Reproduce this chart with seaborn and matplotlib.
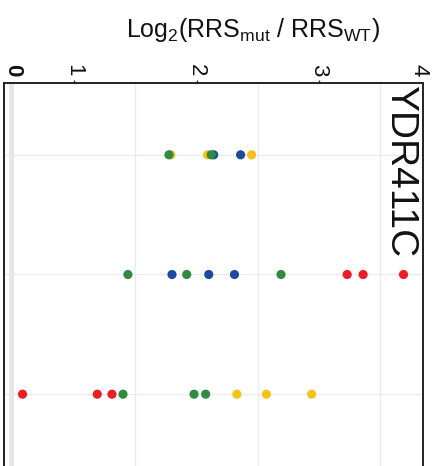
import numpy as np
import pandas as pd
import matplotlib
matplotlib.use("Agg")
import matplotlib.pyplot as plt
from matplotlib.ticker import MultipleLocator, FixedLocator
import seaborn as sns

# ---- data ----
rows = ["row1", "row2", "row3"]
groups = ["yellow", "blue", "green", "red"]
yellow_vals = {"row1": [1.79, 2.09, 2.45], "row2": [], "row3": [2.33, 2.57, 2.94]}
blue_vals = {"row1": [2.14, 2.36], "row2": [1.80, 2.10, 2.31], "row3": []}
green_vals = {"row1": [1.775, 2.12], "row2": [1.44, 1.92, 2.69], "row3": [1.40, 1.98, 2.075]}
red_vals = {"row1": [], "row2": [3.23, 3.36, 3.69], "row3": [0.58, 1.19, 1.31]}
tick_vals = [0.5, 1, 2, 3, 3.82]
tick_labels = ["0", "1", "2", "3", "4"]
title = "YDR411C"

series = {"yellow": yellow_vals, "blue": blue_vals, "green": green_vals, "red": red_vals}
recs = []
for r in rows:
    for g in groups:
        for v in series[g][r]:
            recs.append({"row": r, "group": g, "value": v})
df = pd.DataFrame(recs)

palette = {"yellow": "#F2C318", "blue": "#1B4A9E", "green": "#2E8B40", "red": "#EE1C25"}

sns.set_style("white")
plt.rcParams["font.family"] = ["Liberation Sans", "DejaVu Sans"]
plt.rcParams["mathtext.fontset"] = "custom"
plt.rcParams["mathtext.rm"] = "Liberation Sans"
plt.rcParams["mathtext.it"] = "Liberation Sans:italic"
plt.rcParams["mathtext.bf"] = "Liberation Sans:bold"

fig = plt.figure(figsize=(4.33, 4.66), dpi=100)
W, H = 433, 466
ax = fig.add_axes([3.5 / W, 0, (423.3 - 3.5) / W, 1 - 83 / H])

ax.axvline(0.482, color="#E6E6E6", lw=3.6, zorder=0.5)

sns.stripplot(data=df, x="value", y="row", hue="group", order=rows,
              hue_order=groups, palette=palette, jitter=False, size=6.6,
              linewidth=0, legend=False, ax=ax, zorder=3)

ax.set_xlim(0.4245, 3.8514)
ax.set_ylim(2.6, -0.6)

# grid
ax.xaxis.set_minor_locator(MultipleLocator(0.5))
ax.grid(False)
ax.grid(True, axis="x", which="minor", color="#EBEBEB", lw=1.0, zorder=0)
ax.grid(True, axis="y", which="major", color="#EBEBEB", lw=1.0, zorder=0)
ax.set_axisbelow(True)

# x ticks on top
ax.xaxis.set_major_locator(FixedLocator(tick_vals))
ax.set_xticklabels(tick_labels, rotation=-90, fontsize=16)
ax.xaxis.tick_top()
ax.tick_params(axis="x", which="major", direction="out", length=2.2, width=1.0,
               pad=2.5, color="#222222", labelcolor="#111111")
ax.tick_params(axis="x", which="minor", length=0)
ticks = ax.xaxis.get_major_ticks()
for i in (0, len(ticks) - 1):
    ticks[i].tick1line.set_visible(False)
    ticks[i].tick2line.set_visible(False)
ax.get_xticklabels()[0].set_fontweight("bold")

ax.set_yticks(range(len(rows)))
ax.set_yticklabels([])
ax.tick_params(axis="y", direction="out", length=3.5, width=1.0, color="#222222")

ax.set_xlabel("")
ax.set_ylabel("")

for s in ["top", "left", "right"]:
    ax.spines[s].set_visible(True)
    ax.spines[s].set_linewidth(1.4)
    ax.spines[s].set_color("#222222")
ax.spines["bottom"].set_visible(False)

ax.text(0.987, 0.995, title, transform=ax.transAxes, rotation=-90,
        ha="right", va="top", fontsize=28, color="#111111")

fig.text(253 / W, 1 - 37 / H,
         r"Log$_{2}$(RRS$_{\mathrm{mut}}$ / RRS$_{\mathrm{WT}}$)",
         ha="center", va="baseline", fontsize=18, color="#111111")

fig.savefig("out.png", dpi=100)
